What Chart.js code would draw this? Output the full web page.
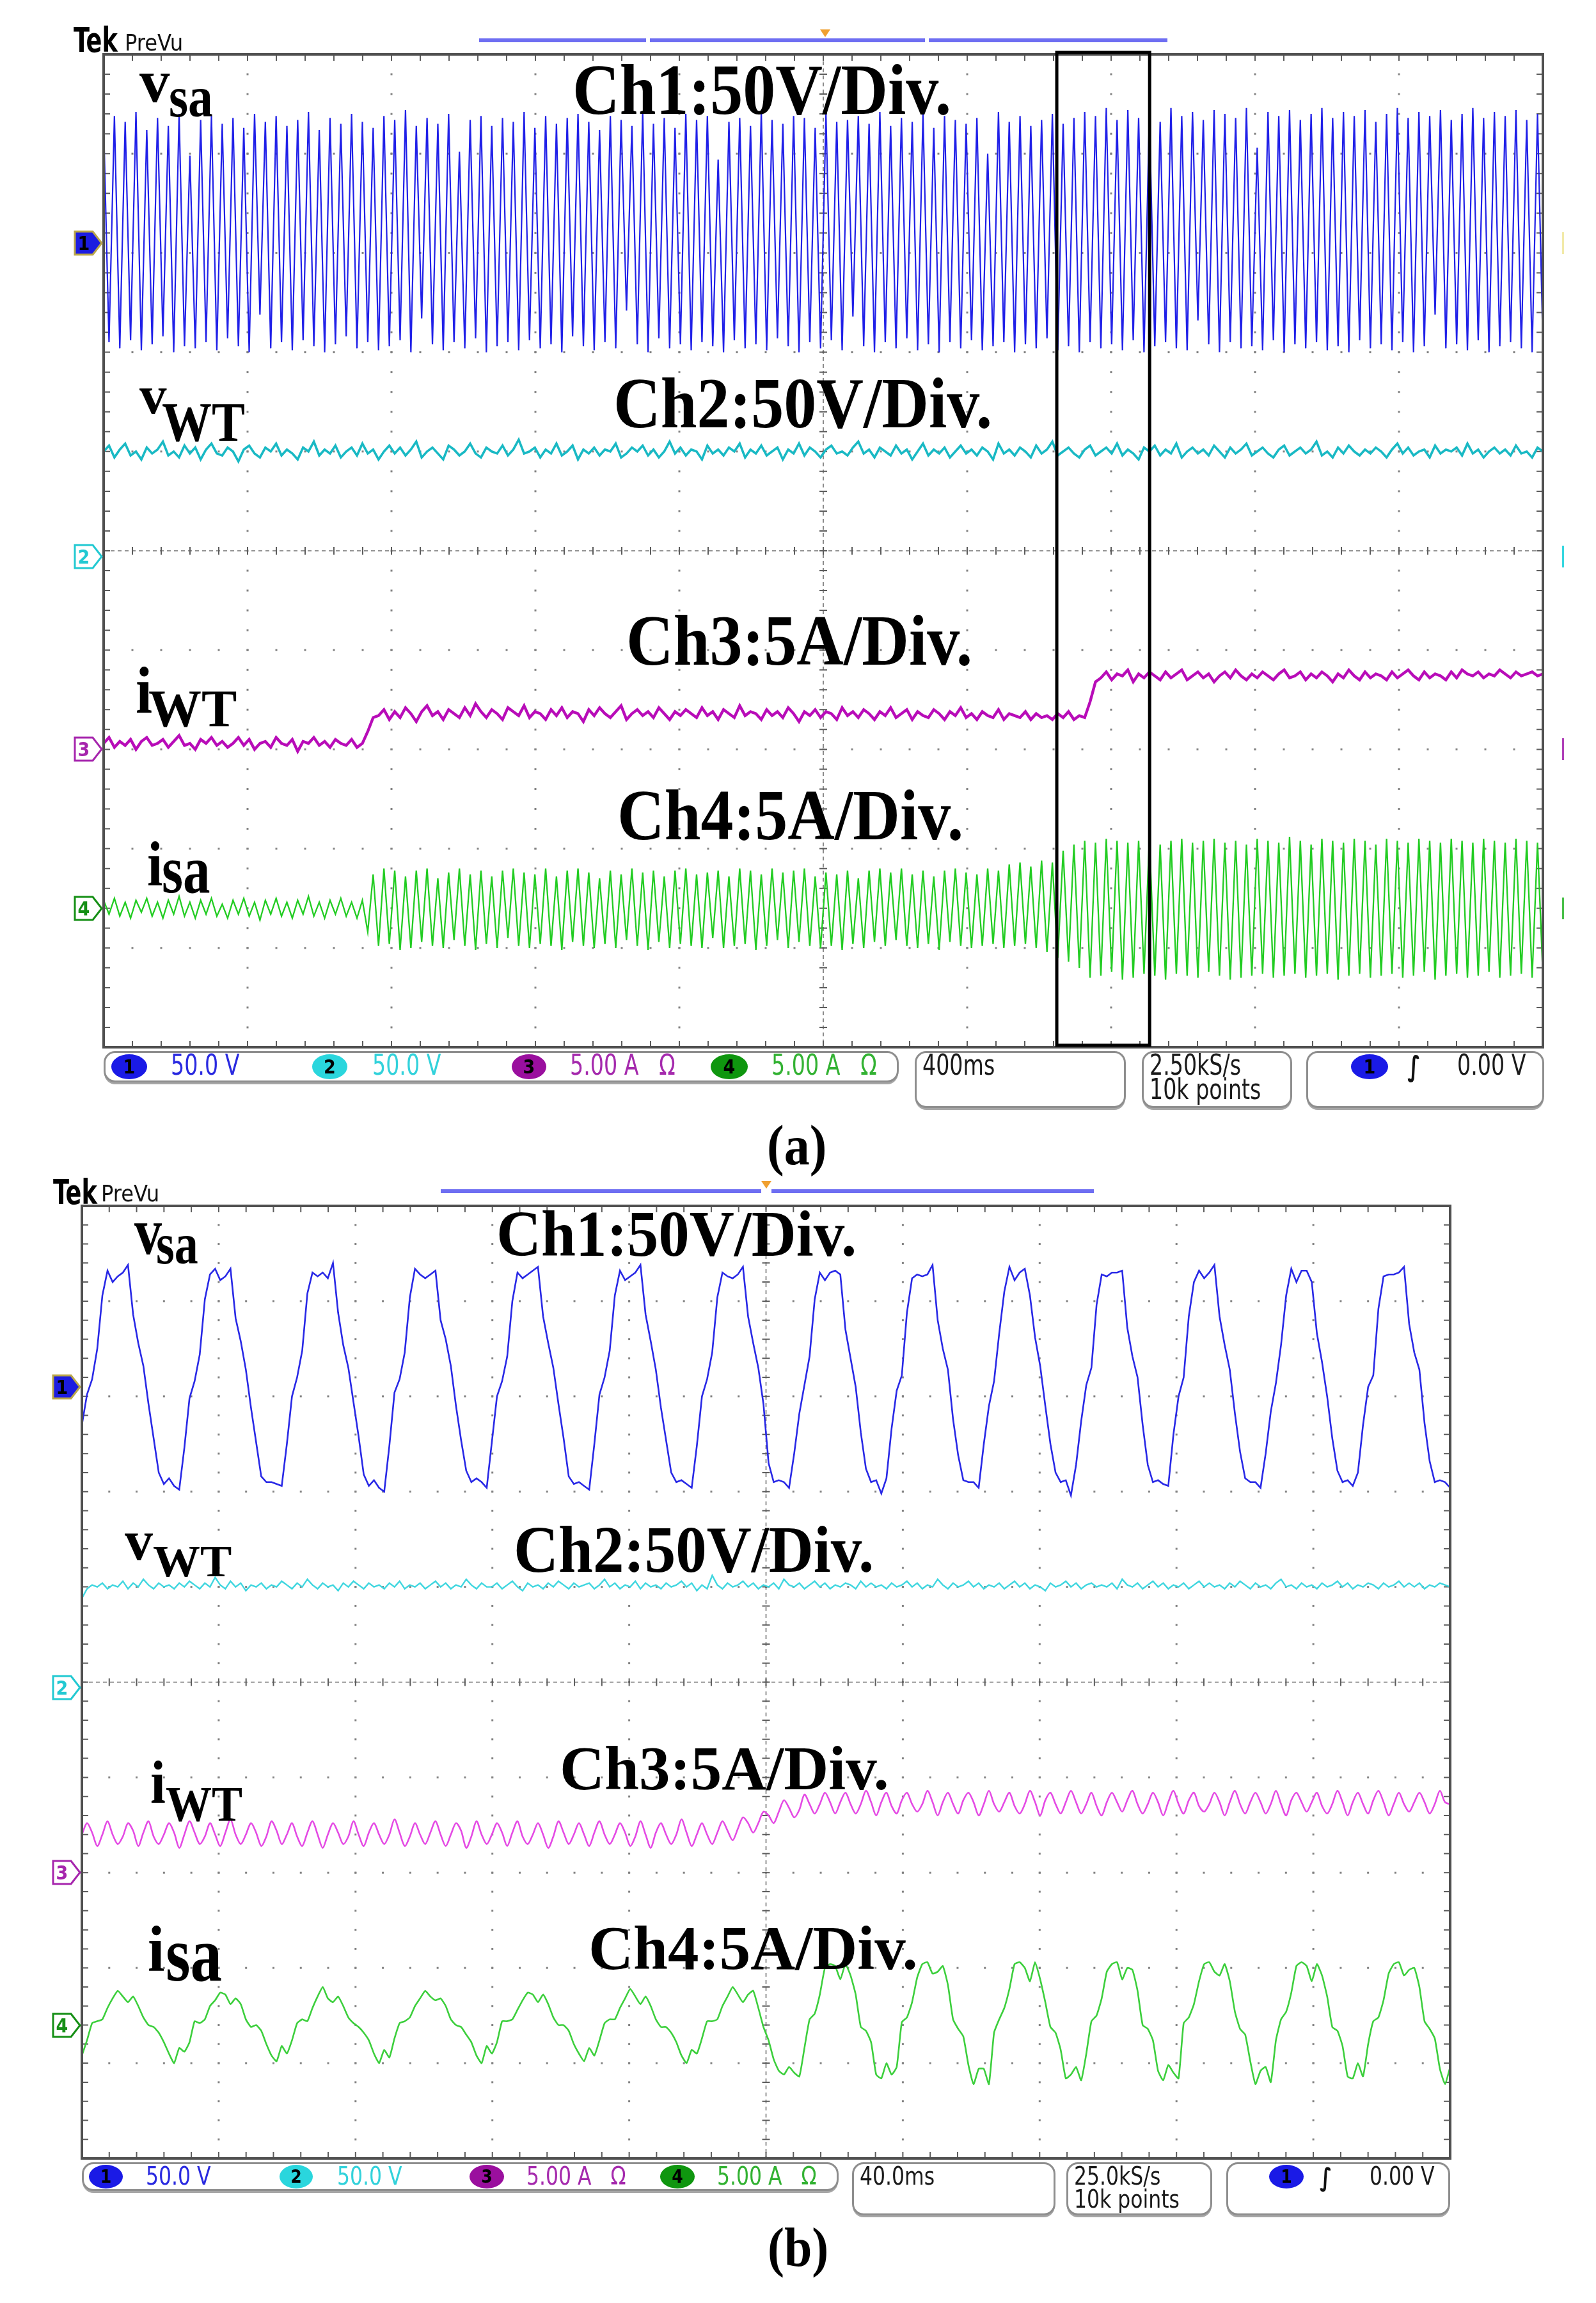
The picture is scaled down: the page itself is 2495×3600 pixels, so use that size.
<!DOCTYPE html>
<html>
<head>
<meta charset="utf-8">
<title>Oscilloscope captures (a) and (b)</title>
<script src="https://cdn.jsdelivr.net/npm/chart.js@4.4.1/dist/chart.umd.min.js"></script>
<style>
  html, body { margin: 0; padding: 0; background: #fff; }
  #page { position: relative; width: 2495px; height: 3600px; overflow: hidden; background: #fff; }
  #page canvas { position: absolute; }
  .t { position: absolute; white-space: pre; line-height: 1; }
  .lab { font-family: "Liberation Serif", "Times New Roman", serif; font-weight: bold; color: #000; }
  .cap { font-family: "Liberation Serif", "Times New Roman", serif; font-weight: bold; color: #000; }
  .scope { font-family: "DejaVu Sans Condensed", "DejaVu Sans", sans-serif; font-stretch: condensed; color: #1a1a1a; }
  .box { position: absolute; box-sizing: border-box; border: 3px solid #8e8e8e; border-radius: 18px; background: #fff; box-shadow: 0 4px 0 -1px #a6a6a6; }
  .badge { position: absolute; border-radius: 50%; color: #000; font-family: "DejaVu Sans Condensed", "DejaVu Sans", sans-serif; font-stretch: condensed; font-weight: bold; display: flex; align-items: center; justify-content: center; }
  .bar { position: absolute; }
</style>
</head>
<body>
<div id="page">
  <canvas id="scopeA"></canvas>
  <canvas id="scopeB"></canvas>
</div>
<script>
// ======================= DATA =======================
const CHANNEL_NAMES = ['vsa', 'vWT', 'iWT', 'isa'];
const CH_PER_DIV = [50, 50, 5, 5];                 // Ch1/Ch2: 50 V/div, Ch3/Ch4: 5 A/div
const CH_OFFSET_DIV = [3.1, -0.06, -2.0, -3.6];    // ground-marker positions (divisions from centre)
const SPAN_A_MS = 4000;                            // 400 ms/div x 10 div
const SPAN_B_MS = 400;                             // 40.0 ms/div x 10 div
const ZOOM_WINDOW_MS = [2649, 2907];               // black rectangle in (a)

const STATUS_CH_TEXT = ['50.0 V', '50.0 V', '5.00 A   \u03A9', '5.00 A   \u03A9'];
const TIMEBASE_TEXT = ['400ms', '40.0ms'];
const RATE_TEXT = ['2.50kS/s', '25.0kS/s'];
const RECORD_TEXT = '10k points';
const TRIGGER_TEXT = '0.00 V';

// (a) Ch1 source voltage, V (alternating crest / trough samples)
const VSA_A = [
60,-50,64,-53,61,-49,66,-54,57,-51, 63,-47,59,-55,65,-52,44,-53,62,-50,
64,-54,60,-48,63,-52,58,-55,65,-36, 61,-53,64,-50,59,-54,62,-49,66,-52,
57,-55,63,-51,60,-47,65,-53,61,-50, 58,-54,64,-52,62,-49,67,-55,59,-38,
63,-51,60,-54,65,-50,46,-53,62,-48, 64,-55,59,-52,63,-50,61,-54,66,-49,
58,-53,64,-51,60,-55,63,-47,65,-52, 61,-54,57,-50,64,-53,62,-34,59,-51,
66,-55,60,-48,63,-53,58,-51,65,-54, 62,-50,64,-52,42,-55,61,-49,63,-53,
59,-51,66,-54,62,-48,60,-52,64,-55, 63,-50,58,-53,65,-49,61,-54,62,-37,
64,-52,60,-55,66,-50,59,-53,63,-48, 61,-54,65,-51,58,-55,64,-50,62,-53,
60,-49,63,-54,45,-52,66,-50,61,-55, 64,-51,59,-53,62,-48,65,-54,60,-52,
63,-55,66,-50,64,-53,68,-51,62,-54, 67,-49,63,-55,65,-52,61,-50,68,-53,
64,-54,66,-39,62,-51,67,-55,65,-50, 63,-53,68,-52,48,-54,66,-49,64,-55,
67,-51,62,-53,65,-50,68,-54,63,-52, 66,-55,64,-49,67,-53,61,-51,65,-54,
68,-50,63,-55,66,-52,64,-36,67,-53, 62,-51,65,-54,68,-49,63,-55,66,-52,
64,-50,67,-53,62,-55,65,-51
];
// (a) Ch2 wind-turbine voltage, V
const VWT_A = [
53,56,50,54,57,51,53,49,55,52,54,58,51,53,50,56,52,55,49,54,
57,52,51,55,53,48,54,56,52,50,55,53,57,51,54,52,49,55,53,58,
51,54,52,56,50,53,55,51,57,52,54,49,53,56,52,55,51,54,58,50,
53,55,52,49,56,54,51,53,57,52,50,55,53,52,56,51,54,59,52,53,
55,50,54,52,57,51,53,56,49,54,52,55,51,54,53,57,50,52,55,53,
56,51,54,50,53,58,52,55,51,54,53,49,56,52,54,51,55,53,57,50,
54,52,56,51,53,55,49,54,52,57,51,55,53,50,54,56,52,53,51,55,
58,52,54,50,55,53,51,56,52,54,49,53,57,51,54,52,55,50,53,56,
52,54,51,55,53,49,57,52,54,51,55,53,50,56,52,54,58,51,53,55,
52,50,54,56,51,53,55,52,57,51,54,52,49,55,53,56,51,54,52,57,
50,53,55,52,54,51,56,53,50,55,52,54,57,51,53,55,52,50,54,56,
51,53,55,52,54,58,51,53,50,55,52,56,53,51,54,52,55,53,50,54,
57,52,55,51,53,54,50,56,52,54,53,55,51,57,52,54,50,53,55,52,
54,51,56,52,53,50,55,53
];
// (a) Ch3 wind-turbine current, A
const IWT_A = [
0.3,0.6,0.1,0.4,0.2,0.5,0.0,0.4,0.6,0.2,0.3,0.5,0.1,0.4,0.7,0.2,0.3,0.0,0.5,0.3,
0.6,0.2,0.4,0.1,0.3,0.6,0.2,0.5,0.0,0.3,0.4,0.1,0.6,0.3,0.2,0.5,-0.1,0.4,0.3,0.6,
0.2,0.4,0.1,0.5,0.3,0.2,0.5,0.1,0.3,
0.9,1.6,
1.7,2.0,1.5,1.9,1.6,2.1,1.8,1.4,1.9,2.2,1.7,1.9,1.5,2.0,1.8,1.6,2.1,1.7,2.3,1.9,
1.6,2.0,1.8,1.5,2.1,1.9,1.7,2.2,1.6,1.9,1.8,1.5,2.0,1.7,2.1,1.6,1.9,1.8,1.4,2.0,
1.7,2.1,1.8,1.6,1.9,2.2,1.5,1.8,2.0,1.7,1.9,1.6,2.1,1.8,1.5,1.9,1.7,2.0,1.8,1.6,
2.1,1.7,1.9,1.5,2.0,1.8,1.6,2.2,1.7,1.9,1.8,1.5,2.0,1.7,1.9,1.6,2.1,1.8,1.4,1.9,
1.7,2.0,1.6,1.9,1.8,1.5,2.1,1.7,1.9,1.6,2.0,1.8,1.5,1.9,1.7,2.1,1.6,1.8,2.0,1.5,
1.9,1.7,1.6,2.0,1.8,1.5,1.9,1.7,2.1,1.6,1.8,1.5,1.9,1.7,1.6,2.0,1.5,1.8,1.7,1.6,
1.9,1.5,1.8,1.6,1.7,1.5,1.8,1.6,1.9,1.5,1.7,1.6,
2.4,3.4,
3.6,3.9,3.5,3.8,3.7,4.0,3.4,3.8,3.6,3.9,3.7,3.5,3.9,3.6,3.8,4.0,3.5,3.7,3.9,3.6,
3.8,3.4,3.7,3.9,3.6,4.0,3.7,3.5,3.8,3.6,3.9,3.7,3.5,3.8,4.0,3.6,3.7,3.9,3.5,3.8,
3.6,3.9,3.7,3.4,3.8,3.6,4.0,3.7,3.5,3.9,3.6,3.8,3.7,3.5,3.9,3.6,3.8,4.0,3.7,3.5,
3.9,3.6,3.8,3.7,3.5,3.9,3.6,4.0,3.8,3.7,3.9,3.6,3.8,3.7,4.0,3.8,3.6,3.9,3.7,3.8,
3.9,3.7,3.8
];
// (a) Ch4 source current, A
const ISA_A = [
0.4,-0.3,0.5,-0.4,0.3,-0.5,0.4,-0.2,0.5,-0.4,0.3,-0.5,0.4,-0.3,0.6,-0.4,0.3,-0.5,0.4,-0.3,
0.5,-0.4,0.2,-0.5,0.4,-0.3,0.5,-0.4,0.3,-0.6,0.4,-0.3,0.5,-0.4,0.3,-0.5,0.4,-0.3,0.6,-0.4,
0.3,-0.5,0.4,-0.3,0.5,-0.4,0.3,-0.5,0.4,
-1.2,1.7,-1.9,2.0,-1.8,1.9,-2.1,1.6,-2.0,1.9, -1.7,2.0,-1.9,1.5,-2.0,1.8,-1.6,2.0,-1.9,1.7,
-2.1,1.9,-1.8,1.6,-2.0,1.9,-1.5,2.0,-1.9,1.8, -2.0,1.7,-1.8,2.0,-1.9,1.6,-2.1,1.9,-1.7,2.0,
-1.9,1.8,-2.0,1.5,-1.8,1.9,-2.0,1.7,-1.6,2.0, -1.9,1.8,-2.1,1.9,-1.7,1.6,-2.0,1.9,-1.8,2.0,
-1.9,1.7,-2.0,1.8,-1.5,1.9,-2.0,1.6,-1.9,2.0, -1.8,1.9,-2.1,1.7,-1.9,2.0,-1.6,1.8,-2.0,1.9,
-1.7,2.0,-1.9,1.6,-2.0,1.8,-1.9,1.7,-2.1,1.9, -1.8,1.5,-2.0,1.9,-1.7,2.0,-1.9,1.8,-1.6,2.0,
-1.9,1.7,-2.0,1.9,-1.8,1.6,-2.1,1.9,-1.7,2.0, -1.9,1.8,-2.0,1.7,-1.9,2.0,-1.8,1.9,-2.0,2.2,
-1.9,2.3,-1.8,2.1,-2.0,2.4,-2.2,2.3,-2.5,2.9, -2.7,3.2,-3.0,3.4,
-3.5,3.3,-3.4,3.5,-3.2,3.4,-3.6,3.3,-3.5,3.4, -3.3,3.5,-3.4,3.2,-3.6,3.4,-3.3,3.5,-3.4,3.3,
-3.5,3.4,-3.2,3.5,-3.4,3.3,-3.6,3.4,-3.5,3.2, -3.4,3.5,-3.3,3.4,-3.5,3.3,-3.4,3.6,-3.3,3.4,
-3.5,3.2,-3.4,3.5,-3.3,3.4,-3.6,3.3,-3.4,3.5, -3.3,3.4,-3.5,3.2,-3.4,3.5,-3.3,3.4,-3.5,3.3,
-3.4,3.5,-3.2,3.4,-3.6,3.3,-3.4,3.5,-3.3,3.4, -3.5,3.3,-3.4,3.5,-3.2,3.4,-3.5,3.3,-3.4,3.5,
-3.3,3.4,-3.5,3.3,-3.4
];

// (b) Ch1 source voltage, V
const VSA_B = [
-20,-4,4,20,48,61,55,58,60,64,38,23,11,-9,-27,-45,-51,-48,-52,-54,
-32,-6,3,17,46,59,62,56,58,62,36,24,9,-11,-29,-47,-50,-50,-51,-52,
-30,-5,5,19,49,60,58,60,57,65,39,22,10,-8,-26,-46,-52,-49,-53,-55,
-31,-3,4,18,47,62,59,57,59,61,35,25,11,-10,-28,-44,-50,-48,-50,-53,
-29,-5,3,16,45,60,57,59,61,63,37,23,10,-9,-27,-47,-51,-50,-52,-54,
-30,-4,5,19,48,61,56,58,60,64,38,24,9,-11,-28,-45,-50,-49,-51,-53,
-31,-5,4,18,47,60,58,57,59,63,37,23,10,-9,
-40,-50,-49,-50,-53,-35,-14,
1,16,46,60,56,60,61,59,30,15,0,-24,-43,-50,-49,-56,-48,-22,-2,
6,39,57,59,58,59,64,35,20,9,-17,-36,-49,-50,-50,-53,-30,-10,
3,28,50,63,56,60,62,48,26,11,-10,-30,-45,-50,-49,-57,-41,-18,
1,10,43,59,58,60,60,61,31,16,5,-20,-41,-50,-49,-51,-52,-25,-5,
5,37,55,61,57,60,64,37,22,9,-14,-34,-48,-50,-50,-53,-35,-13,
2,22,48,62,55,61,61,55,28,13,-5,-27,-44,-50,-49,-52,-45,-20,0,
6,41,58,59,59,60,63,33,18,9,-19,-39,-50,-49,-50,-53
];
// (b) Ch2 wind-turbine voltage, V
const VWT_B = [
47,52,54,53,55,52,54,53,56,52,55,53,57,54,52,55,53,54,52,55,
53,56,54,52,55,53,58,54,52,56,53,55,51,54,53,55,52,54,53,56,
54,52,55,53,57,54,52,55,53,54,51,55,53,56,54,52,55,53,54,52,
55,53,56,52,54,53,55,52,54,56,53,55,52,54,53,57,54,52,55,53,
53,55,52,54,56,53,51,55,53,54,52,55,53,56,54,52,55,53,54,55,
52,54,57,53,55,52,54,53,56,52,55,53,54,52,55,53,54,56,53,55,
51,54,52,59,54,52,55,53,54,56,53,55,52,54,53,55,52,57,54,53,
55,52,54,56,53,55,52,54,53,55,54,52,56,53,55,53,54,52,55,53,
54,56,53,55,52,54,53,57,54,52,55,53,54,56,53,55,52,54,53,55,
52,54,56,53,55,52,54,53,51,55,53,54,56,53,55,52,54,55,53,54,
53,55,52,57,54,53,55,52,54,56,53,55,52,54,53,55,52,54,56,53,
55,53,54,52,55,53,56,54,52,55,53,54,52,55,57,53,54,52,55,53,
54,52,55,53,54,56,53,55,52,54,53,55,54,52,55,53,54,56,53,55,
53,55,52,54,53,55,54,53
];
// (b) Ch3 wind-turbine current, A
const IWT_B = [
2.0,2.6,2.1,1.4,2.0,2.7,2.0,1.5,1.9,2.6,2.2,1.4,2.1,2.7,1.9,1.5,2.0,2.6,2.1,1.3,
2.0,2.7,2.1,1.5,1.9,2.6,2.0,1.4,2.1,2.8,2.0,1.5,2.0,2.6,2.1,1.4,1.9,2.7,2.2,1.5,
2.0,2.6,1.9,1.4,2.1,2.7,2.0,1.3,2.0,2.6,2.1,1.5,1.9,2.7,2.0,1.4,2.1,2.6,2.0,1.5,
2.0,2.8,2.1,1.4,1.9,2.6,2.0,1.5,2.1,2.7,2.0,1.4,2.0,2.6,2.2,1.3,1.9,2.7,2.0,1.5,
2.0,2.6,2.1,1.4,2.1,2.7,1.9,1.5,2.0,2.6,2.0,1.3,1.9,2.7,2.1,1.5,2.0,2.6,2.0,1.4,
2.1,2.7,2.0,1.5,2.0,2.6,2.1,1.4,1.9,2.7,2.0,1.3,2.1,2.6,2.0,1.5,2.0,2.8,2.1,1.4,
2.0,2.6,2.0,1.5,2.1,2.7,2.2,1.7,2.3,2.9,2.6,2.1,2.6,3.2,
3.0,2.6,3.2,3.8,3.4,2.9,3.3,4.1,3.6,3.1,3.6,4.2,3.7,3.1,
3.7,4.2,3.6,3.1,3.6,4.3,3.7,3.0,3.7,4.2,3.5,3.1,3.8,4.2,3.6,3.2,3.6,4.3,3.7,3.0,
3.7,4.2,3.6,3.1,3.8,4.2,3.7,3.0,3.6,4.3,3.6,3.2,3.7,4.2,3.5,3.1,3.6,4.3,3.7,3.0,
3.8,4.2,3.6,3.1,3.7,4.3,3.7,3.1,3.6,4.2,3.5,3.0,3.7,4.2,3.7,3.2,3.8,4.3,3.6,3.1,
3.6,4.2,3.7,3.0,3.7,4.3,3.6,3.1,3.8,4.2,3.5,3.2,3.6,4.2,3.7,3.0,3.7,4.3,3.6,3.1,
3.7,4.2,3.7,3.1,3.6,4.3,3.6,3.0,3.8,4.2,3.7,3.2,3.7,4.2,3.5,3.1,3.6,4.3,3.7,3.0,
3.7,4.2,3.6,3.1,3.8,4.3,3.7,3.0,3.6,4.2,3.6,3.2,3.7,4.2,3.7,3.1,3.6,4.3,3.7,3.6
];
// (b) Ch4 source current, A
const ISA_B = [
-1.6,-0.8,0.1,0.2,0.3,0.9,1.4,1.8,1.5,1.2,1.5,1.0,0.4,0.0,-0.1,-0.4,-0.9,-1.5,-2.0,-1.2,
-1.4,-0.9,0.2,0.1,0.3,1.0,1.3,1.7,1.6,1.1,1.4,1.1,0.3,-0.1,0.0,-0.3,-1.0,-1.6,-1.9,-1.1,
-1.5,-0.8,0.1,0.3,0.2,0.9,1.5,2.0,1.4,1.2,1.5,1.0,0.4,0.1,-0.1,-0.4,-0.8,-1.5,-2.0,-1.3,
-1.7,-0.7,0.1,0.2,0.4,1.0,1.4,1.8,1.5,1.3,1.4,1.0,0.3,0.0,-0.1,-0.5,-0.9,-1.6,-2.0,-1.1,
-1.5,-0.9,0.2,0.2,0.3,0.8,1.3,1.7,1.6,1.2,1.6,1.1,0.4,0.0,0.0,-0.3,-1.0,-1.5,-1.9,-1.2,
-1.6,-0.8,0.1,0.3,0.3,0.9,1.4,1.9,1.5,1.1,1.5,1.0,0.3,-0.1,-0.1,-0.4,-0.9,-1.6,-2.0,-1.3,
-1.5,-0.7,0.2,0.2,0.3,1.0,1.5,2.0,1.6,1.2,1.6,1.8,0.9,-0.1,
-0.8,-1.8,-2.4,-2.6,-2.2,-2.5,-2.7,
-1.2,0.3,0.6,1.6,3.0,3.2,3.1,2.4,3.2,2.6,1.6,-0.1,-0.3,-0.9,-2.6,-2.8,-2.0,-2.6,-2.2,
0.15,0.4,1.2,2.5,3.2,3.3,2.7,2.8,3.1,2.1,0.3,-0.2,-0.6,-2.1,-3.1,-2.3,-2.3,-3.1,
-0.4,0.3,0.9,1.9,3.2,3.3,3.0,2.3,3.3,2.4,1.2,-0.1,-0.4,-1.3,-2.8,-2.6,-2.2,-2.9,
-1.5,0.2,0.5,1.4,2.8,3.2,3.3,2.4,3.0,2.9,1.8,0.0,-0.2,-0.8,-2.4,-2.9,-2.1,-2.5,-2.8,
0.1,0.4,1.1,2.3,3.2,3.3,2.8,2.6,3.2,2.3,0.7,-0.2,-0.5,-1.9,-3.1,-2.4,-2.2,-3.0,
-0.8,0.3,0.7,1.7,3.1,3.3,3.1,2.3,3.2,2.6,1.5,-0.1,-0.3,-1.1,-2.7,-2.8,-2.0,-2.7,-1.0,
0.2,0.4,1.3,2.7,3.2,3.3,2.6,2.9,3.0,2.0,0.2,-0.2,-0.7,-2.3,-3.1,-2.2
];

// ======================= STYLE / LAYOUT =======================
const COLORS_A = ['rgb(32,32,232)', '#19b9c4', '#b80cb8', '#22cc22'];
const COLORS_B = ['rgb(40,40,230)', '#3fd6df', '#e44ae4', '#3ccf3c'];
const WIDTHS_A = [2.2, 3.6, 4.4, 2.3];
const WIDTHS_B = [2.6, 2.4, 2.6, 2.6];
const MARKER_COLORS = ['#1c1ce0', '#22c9d2', '#a625ad', '#158f15'];
const BADGE_COLORS = ['#1a1ae6', '#2ad6dd', '#9a0f9e', '#0f960f'];
const STATUS_COLORS = ['#2a2ae0', '#33d2db', '#a52aad', '#33b233'];
const PAD = { left: 60, right: 50, top: 30, bottom: 12 };
const PANEL_A = { left: 162, top: 85, width: 2250, height: 1552 };
const PANEL_B = { left: 128, top: 1885, width: 2139, height: 1489 };

const page = document.getElementById('page');

function toPoints(values, spanMs, ch) {
  const n = values.length;
  return values.map((v, i) => ({ x: i * spanMs / (n - 1), y: CH_OFFSET_DIV[ch] + v / CH_PER_DIV[ch] }));
}

const scopeGrid = {
  id: 'scopeGrid',
  beforeDatasetsDraw(chart) {
    const { ctx, chartArea: A, scales: { x, y } } = chart;
    const xd = (x.max - x.min) / 10, yd = (y.max - y.min) / 10;
    const X = v => x.getPixelForValue(v), Y = v => y.getPixelForValue(v);
    ctx.save();
    ctx.fillStyle = '#828282';
    for (let k = 1; k < 10; k++) {
      if (k === 5) continue;
      const px = X(x.min + k * xd);
      for (let j = 1; j < 50; j++) { const py = Y(y.min + j * yd / 5); ctx.fillRect(px - 1.5, py - 1.5, 3, 3); }
      const py2 = Y(y.min + k * yd);
      for (let j = 1; j < 50; j++) { const px2 = X(x.min + j * xd / 5); ctx.fillRect(px2 - 1.5, py2 - 1.5, 3, 3); }
    }
    const cx = X(x.min + 5 * xd), cy = Y(y.min + 5 * yd);
    ctx.strokeStyle = '#707070'; ctx.lineWidth = 1.6; ctx.setLineDash([6, 5]);
    ctx.beginPath();
    ctx.moveTo(A.left, cy); ctx.lineTo(A.right, cy);
    ctx.moveTo(cx, A.top); ctx.lineTo(cx, A.bottom);
    ctx.stroke();
    ctx.setLineDash([]); ctx.lineWidth = 2; ctx.strokeStyle = '#5c5c5c';
    ctx.beginPath();
    for (let j = 1; j < 50; j++) {
      const px = X(x.min + j * xd / 5);
      ctx.moveTo(px, cy - 6); ctx.lineTo(px, cy + 6);
      ctx.moveTo(px, A.top); ctx.lineTo(px, A.top + 10);
      ctx.moveTo(px, A.bottom); ctx.lineTo(px, A.bottom - 10);
      const py = Y(y.min + j * yd / 5);
      ctx.moveTo(cx - 6, py); ctx.lineTo(cx + 6, py);
      ctx.moveTo(A.left, py); ctx.lineTo(A.left + 10, py);
      ctx.moveTo(A.right, py); ctx.lineTo(A.right - 10, py);
    }
    ctx.stroke();
    ctx.restore();
  },
  afterDatasetsDraw(chart, args, opts) {
    const { ctx, chartArea: A, scales: { x } } = chart;
    ctx.save();
    ctx.strokeStyle = '#505050'; ctx.lineWidth = 4;
    ctx.strokeRect(A.left, A.top, A.right - A.left, A.bottom - A.top);
    if (opts && opts.box) {
      ctx.strokeStyle = '#000'; ctx.lineWidth = 5;
      const l = x.getPixelForValue(opts.box[0]), r = x.getPixelForValue(opts.box[1]);
      ctx.strokeRect(l, A.top - 3, r - l, A.bottom - A.top);
    }
    ctx.restore();
  }
};

function makeScope(id, panel, span, series, colors, widths, tensions, box) {
  const cv = document.getElementById(id);
  const W = panel.width + PAD.left + PAD.right, H = panel.height + PAD.top + PAD.bottom;
  cv.width = W; cv.height = H;
  cv.style.left = (panel.left - PAD.left) + 'px';
  cv.style.top = (panel.top - PAD.top) + 'px';
  cv.style.width = W + 'px'; cv.style.height = H + 'px';
  const datasets = series.map((vals, ch) => ({
    label: CHANNEL_NAMES[ch],
    data: toPoints(vals, span, ch),
    borderColor: colors[ch],
    borderWidth: widths[ch],
    pointRadius: 0,
    tension: tensions[ch],
    fill: false
  }));
  return new Chart(cv, {
    type: 'line',
    data: { datasets },
    options: {
      responsive: false, animation: false, devicePixelRatio: 1, events: [],
      parsing: false, normalized: true,
      layout: { padding: PAD },
      plugins: { legend: { display: false }, tooltip: { enabled: false }, scopeGrid: { box } },
      scales: {
        x: { type: 'linear', min: 0, max: span, display: false },
        y: { type: 'linear', min: -5, max: 5, display: false }
      }
    },
    plugins: [scopeGrid]
  });
}

const chartA = makeScope('scopeA', PANEL_A, SPAN_A_MS, [VSA_A, VWT_A, IWT_A, ISA_A],
  COLORS_A, WIDTHS_A, [0, 0, 0, 0], ZOOM_WINDOW_MS);
const chartB = makeScope('scopeB', PANEL_B, SPAN_B_MS, [VSA_B, VWT_B, IWT_B, ISA_B],
  COLORS_B, WIDTHS_B, [0, 0, 0.3, 0.15], null);

// ---------- text helpers ----------
function txt(str, x, base, size, opt = {}) {
  const el = document.createElement('div');
  const cls = opt.cls || 'lab';
  el.className = 't ' + cls;
  el.textContent = str;
  const asc = cls === 'scope' ? 0.846 : 0.8375;
  el.style.left = x + 'px';
  el.style.top = (base - asc * size) + 'px';
  el.style.fontSize = size + 'px';
  if (opt.color) el.style.color = opt.color;
  if (opt.weight) el.style.fontWeight = opt.weight;
  const sx = opt.sx || 1, sy = opt.sy || 1;
  if (sx !== 1 || sy !== 1) {
    el.style.transformOrigin = '0 ' + (asc * size) + 'px';
    el.style.transform = 'scale(' + sx + ',' + sy + ')';
  }
  page.appendChild(el);
  return el;
}
function rect(cls, x1, y1, x2, y2, style) {
  const d = document.createElement('div');
  d.className = cls;
  Object.assign(d.style, { left: x1 + 'px', top: y1 + 'px', width: (x2 - x1) + 'px', height: (y2 - y1) + 'px' }, style || {});
  page.appendChild(d);
  return d;
}
function badge(n, x1, y1, x2, y2, bg, fs) {
  const d = rect('badge', x1, y1, x2, y2, { background: bg, fontSize: fs + 'px' });
  d.textContent = n;
}
function marker(n, ch, chart, panel) {
  const y = chart.scales.y.getPixelForValue(CH_OFFSET_DIV[ch]) + panel.top - PAD.top;
  const c = MARKER_COLORS[ch], filled = ch === 0;
  const html = '<svg xmlns="http://www.w3.org/2000/svg" width="48" height="42" style="position:absolute;left:' + (panel.left - 48) + 'px;top:' + (y - 21) + 'px">' +
    '<polygon points="3,3 31,3 45,21 31,39 3,39" fill="' + (filled ? c : '#fff') + '" stroke="' + (filled ? '#b9a64a' : c) + '" stroke-width="3"/>' +
    '<text x="17" y="32" font-family="DejaVu Sans Condensed, DejaVu Sans, sans-serif" font-size="30" font-weight="bold" text-anchor="middle" fill="' + (filled ? '#000' : c) + '">' + n + '</text></svg>';
  page.insertAdjacentHTML('beforeend', html);
  return y;
}

// ---------- channel ground markers ----------
const markerYA = [0, 1, 2, 3].map(ch => marker(String(ch + 1), ch, chartA, PANEL_A));
[0, 1, 2, 3].forEach(ch => marker(String(ch + 1), ch, chartB, PANEL_B));
const EDGE_COLORS = ['#f2eaa8', '#36d7e0', '#b040b8', '#49c049'];
markerYA.forEach((y, ch) => rect('bar', 2442, y - 17, 2445, y + 17, { background: EDGE_COLORS[ch] }));

// ---------- header: Tek PreVu + trigger-position bar ----------
txt('Tek', 115, 81, 48, { cls: 'scope', weight: 'bold', color: '#000', sx: 0.85, sy: 1.1 });
txt('PreVu', 195, 79, 32, { cls: 'scope', color: '#111', sx: 1.12, sy: 1.1 });
rect('bar', 749, 60, 1010, 66, { background: '#6e6ef2' });
rect('bar', 1016, 60, 1446, 66, { background: '#6e6ef2' });
rect('bar', 1452, 60, 1825, 66, { background: '#6e6ef2' });
rect('bar', 1282, 46, 1298, 58, { background: 'transparent', borderLeft: '8px solid transparent', borderRight: '8px solid transparent', borderTop: '12px solid #f0a030', width: '0px', height: '0px' });

txt('Tek', 83, 1882, 48, { cls: 'scope', weight: 'bold', color: '#000', sx: 0.85, sy: 1.1 });
txt('PreVu', 158, 1878, 32, { cls: 'scope', color: '#111', sx: 1.12, sy: 1.1 });
rect('bar', 689, 1859, 1190, 1865, { background: '#6e6ef2' });
rect('bar', 1206, 1859, 1710, 1865, { background: '#6e6ef2' });
rect('bar', 1190, 1846, 1206, 1858, { background: 'transparent', borderLeft: '8px solid transparent', borderRight: '8px solid transparent', borderTop: '12px solid #f0a030', width: '0px', height: '0px' });

// ---------- waveform labels ----------
// (a)
txt('v', 218, 160, 95);
txt('sa', 264, 182, 90, { sx: 0.86 });
txt('Ch1:50V/Div.', 895, 178, 102, { sy: 1.09 });
txt('v', 218, 646, 85);
txt('WT', 253, 689, 78, { sy: 1.1 });
txt('Ch2:50V/Div.', 959, 668, 102, { sy: 1.09 });
txt('i', 212, 1114, 94, { sy: 1.1 });
txt('WT', 232, 1136, 83);
txt('Ch3:5A/Div.', 979, 1039, 102, { sy: 1.09 });
txt('i', 230, 1385, 88, { sy: 1.12 });
txt('sa', 253, 1395, 85, { sy: 1.25 });
txt('Ch4:5A/Div.', 965, 1312, 102, { sy: 1.09 });
// (b)
txt('v', 210, 1960, 86, { sy: 1.2 });
txt('sa', 244, 1975, 74, { sy: 1.24 });
txt('Ch1:50V/Div.', 776, 1963, 97, { sy: 1.04 });
txt('v', 195, 2439, 88);
txt('WT', 239, 2464, 74, { sy: 0.95 });
txt('Ch2:50V/Div.', 803, 2457, 97, { sy: 1.06 });
txt('i', 235, 2818, 86, { sy: 1.11 });
txt('WT', 259, 2846, 72, { sy: 1.09 });
txt('Ch3:5A/Div.', 875, 2797, 97);
txt('i', 231, 3082, 95, { sy: 1.08 });
txt('sa', 259, 3096, 99, { sy: 1.25 });
txt('Ch4:5A/Div.', 920, 3078, 97);

// ---------- status bars ----------
function statusBar(L) {
  rect('box', L.ch[0], L.ch[1], L.ch[2], L.ch[3]);
  L.badges.forEach((b, k) => {
    badge(String(k + 1), b[0], L.by[0], b[1], L.by[1], BADGE_COLORS[k], L.bfs);
    txt(STATUS_CH_TEXT[k], L.tx[k], L.base, L.fs, { cls: 'scope', color: STATUS_COLORS[k], sy: L.sy });
  });
  rect('box', L.time[0], L.time[1], L.time[2], L.time[3]);
  txt(TIMEBASE_TEXT[L.idx], L.time[0] + 12, L.base, L.fs, { cls: 'scope', sy: L.sy });
  rect('box', L.rate[0], L.rate[1], L.rate[2], L.rate[3]);
  txt(RATE_TEXT[L.idx], L.rate[0] + 12, L.base, L.fs, { cls: 'scope', sy: L.sy });
  txt(RECORD_TEXT, L.rate[0] + 12, L.base2, L.fs, { cls: 'scope', sy: L.sy });
  rect('box', L.trig[0], L.trig[1], L.trig[2], L.trig[3]);
  badge('1', L.tb[0], L.by[0], L.tb[1], L.by[1], BADGE_COLORS[0], L.bfs);
  txt('\u222B', L.tsym, L.base + 2, L.fs, { cls: 'scope', weight: 'bold', color: '#111', sy: L.sy });
  txt(TRIGGER_TEXT, L.tlev, L.base, L.fs, { cls: 'scope', sy: L.sy });
}
statusBar({ idx: 0, ch: [162, 1643, 1405, 1692], by: [1648, 1687], bfs: 30, sy: 1.18,
  badges: [[174, 230], [488, 543], [800, 854], [1111, 1169]], tx: [267, 582, 891, 1206],
  base: 1680, base2: 1718, fs: 37,
  time: [1430, 1643, 1760, 1732], rate: [1785, 1643, 2020, 1732], trig: [2042, 1643, 2414, 1732],
  tb: [2112, 2170], tsym: 2200, tlev: 2278 });
statusBar({ idx: 1, ch: [128, 3380, 1311, 3425], by: [3384, 3421], bfs: 28, sy: 1.12,
  badges: [[139, 192], [437, 489], [734, 788], [1032, 1086]], tx: [228, 527, 823, 1121],
  base: 3416, base2: 3452, fs: 35,
  time: [1332, 3380, 1650, 3463], rate: [1667, 3380, 1895, 3463], trig: [1917, 3380, 2267, 3463],
  tb: [1984, 2038], tsym: 2063, tlev: 2141 });

// ---------- captions ----------
txt('(a)', 1199, 1820, 80, { cls: 'cap', sy: 1.12 });
txt('(b)', 1200, 3542, 78, { cls: 'cap', sy: 1.1 });
</script>
</body>
</html>
